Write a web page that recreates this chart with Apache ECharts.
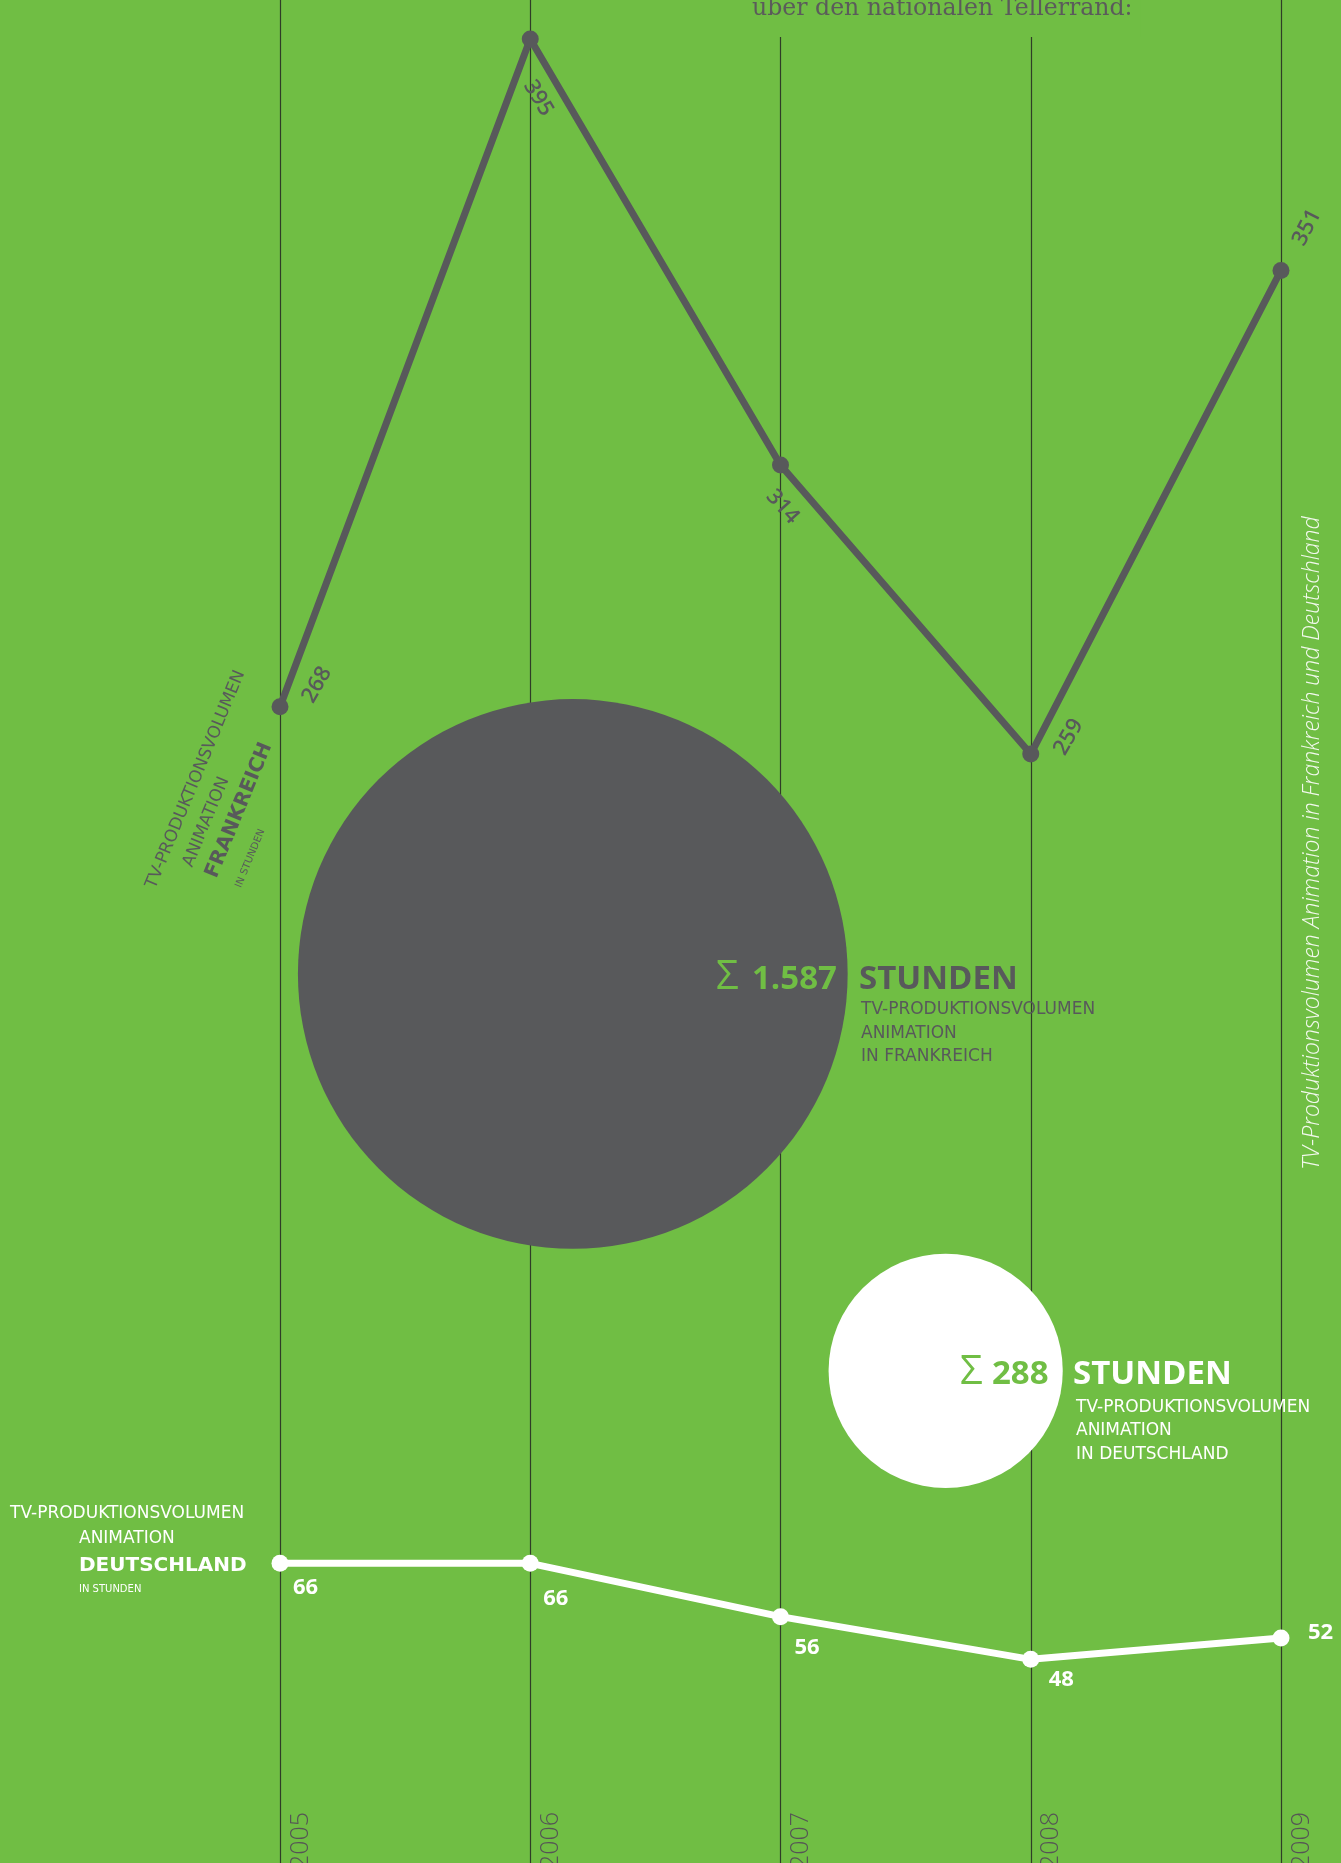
<!DOCTYPE html>
<html>
<head>
<meta charset="utf-8">
<script src="https://cdn.jsdelivr.net/npm/echarts@6/dist/echarts.min.js"></script>
<style>
html,body{margin:0;padding:0;background:#70BE44;}
#chart{width:1341px;height:1863px;}
</style>
</head>
<body>
<div id="chart"></div>
<script>
// ---------- data ----------
const years = ['2005', '2006', '2007', '2008', '2009'];
const franceValues = [268, 395, 314, 259, 351];
const germanyValues = [66, 66, 56, 48, 52];

const titleText = 'über den nationalen Tellerrand:';
const sideTitle = 'TV-Produktionsvolumen Animation in Frankreich und Deutschland';
const unitWord = 'STUNDEN';
const sumLinesFR = ['TV-PRODUKTIONSVOLUMEN', 'ANIMATION', 'IN FRANKREICH'];
const sumLinesDE = ['TV-PRODUKTIONSVOLUMEN', 'ANIMATION', 'IN DEUTSCHLAND'];
const seriesLabelFR = ['TV-PRODUKTIONSVOLUMEN', 'ANIMATION', 'FRANKREICH', 'IN STUNDEN'];
const seriesLabelDE = ['TV-PRODUKTIONSVOLUMEN', 'ANIMATION', 'DEUTSCHLAND', 'IN STUNDEN'];

// ---------- layout / style ----------
const GREEN = '#70BE44';
const GRAY = '#58595B';
const WHITE = '#FFFFFF';
const SANS = '"Open Sans"';
const WIDE = '"DejaVu Sans"';

// label placement (screen offsets from point, rotation in degrees)
const FR_LABEL = [
  {dx: 37, dy: -22, rot: 60},
  {dx: 8, dy: 59, rot: -59},
  {dx: 2, dy: 42, rot: -48},
  {dx: 38, dy: -17, rot: 60},
  {dx: 26, dy: -43, rot: 63}
];
const DE_LABEL = [[13, 24], [13, 35], [14, 31], [18, 20], [27, -5]];
// bubble centres: [x in axis years, y in % of height]
const BUBBLE_POS = [[2006.17, 52.28], [2007.66, 73.58]];
const BUBBLE_SCALE = 13.8;

function sum(a) { return a.reduce((s, v) => s + v, 0); }
function fmt(n) { return String(n).replace(/\B(?=(\d{3})+(?!\d))/g, '.'); }
function rotOffset(dx, dy, deg) {
  const t = deg * Math.PI / 180, c = Math.cos(t), s = Math.sin(t);
  return [dx * c - dy * s, dx * s + dy * c];
}
const totalFR = sum(franceValues);
const totalDE = sum(germanyValues);

function txt(str, x, base, size, weight, family, color, extra) {
  return Object.assign({
    type: 'text', x: x, y: base - 0.37 * size + 3, z: 100,
    style: {
      text: str, fill: color,
      font: weight + ' ' + size + 'px ' + family,
      align: 'left', textAlign: 'left',
      verticalAlign: 'middle', textVerticalAlign: 'middle'
    }
  }, extra || {});
}

const graphics = [];
// title (with green box so the grid lines stop below it)
graphics.push({
  type: 'text', x: 744, y: -3, z: 100,
  style: {
    text: titleText, fill: '#5B5B5B', font: 'normal 23.6px "DejaVu Serif"',
    align: 'left', textAlign: 'left', verticalAlign: 'top', textVerticalAlign: 'top',
    backgroundColor: GREEN, padding: [0, 8, 16, 8]
  }
});
// right vertical title
graphics.push({
  type: 'text', x: 1312, y: 843, rotation: Math.PI / 2, z: 100,
  style: {
    text: sideTitle, fill: '#F3F9EE', font: 'italic 300 23px ' + SANS,
    align: 'center', textAlign: 'center', verticalAlign: 'middle', textVerticalAlign: 'middle'
  }
});
// France sum block
graphics.push(txt('Σ', 716, 989, 40, 'normal', SANS, GREEN));
graphics.push(txt(fmt(totalFR), 752, 989, 33, 'bold', SANS, GREEN));
graphics.push(txt(unitWord, 859, 989, 33, 'bold', SANS, GRAY));
[1013, 1037, 1060].forEach((b, i) => graphics.push(txt(sumLinesFR[i], 861, b, 17, 'normal', WIDE, GRAY)));
// Germany sum block
graphics.push(txt('Σ', 960, 1384, 40, 'normal', SANS, GREEN));
graphics.push(txt(fmt(totalDE), 992, 1384, 33, 'bold', SANS, GREEN));
graphics.push(txt(unitWord, 1073, 1384, 33, 'bold', SANS, WHITE));
[1411, 1434, 1458].forEach((b, i) => graphics.push(txt(sumLinesDE[i], 1076, b, 17, 'normal', WIDE, WHITE)));
// Germany series label (left)
graphics.push(txt(seriesLabelDE[0], 10, 1517, 17, 'normal', WIDE, WHITE));
graphics.push(txt(seriesLabelDE[1], 79, 1542, 17, 'normal', WIDE, WHITE));
graphics.push(txt(seriesLabelDE[2], 79, 1570, 20, 'bold', WIDE, WHITE));
graphics.push(txt(seriesLabelDE[3], 79, 1590, 10, 'normal', WIDE, WHITE));
// France series label (rotated)
graphics.push({
  type: 'group', x: 154, y: 889, rotation: 67.5 * Math.PI / 180, z: 100,
  children: [
    txt(seriesLabelFR[0], 0, 0, 17, 'normal', WIDE, GRAY),
    txt(seriesLabelFR[1], 34, 26, 17, 'normal', WIDE, GRAY),
    txt(seriesLabelFR[2], 33, 53, 20, 'bold', WIDE, GRAY),
    txt(seriesLabelFR[3], 34, 78, 10, 'normal', WIDE, GRAY)
  ]
});

const franceData = franceValues.map((v, i) => ({
  value: v,
  label: {rotate: FR_LABEL[i].rot, offset: rotOffset(FR_LABEL[i].dx, FR_LABEL[i].dy, FR_LABEL[i].rot)}
}));
const germanyData = germanyValues.map((v, i) => ({
  value: v,
  label: {offset: DE_LABEL[i]}
}));
const bubbleData = [
  {value: [BUBBLE_POS[0][0], BUBBLE_POS[0][1], totalFR], itemStyle: {color: GRAY}},
  {value: [BUBBLE_POS[1][0], BUBBLE_POS[1][1], totalDE], itemStyle: {color: WHITE}}
];

const hiddenCat = (gi) => ({
  type: 'category', gridIndex: gi, data: years, boundaryGap: false, show: false
});

const option = {
  backgroundColor: GREEN,
  animation: false,
  grid: [
    {left: 280, right: 60, top: 12.8, height: 788.6, outerBoundsMode: 'none', containLabel: false},   // France
    {left: 280, right: 60, top: 1542, height: 160, outerBoundsMode: 'none', containLabel: false},     // Germany
    {left: 280, right: 60, top: 0, bottom: 0, outerBoundsMode: 'none', containLabel: false},          // year lines
    {left: 280, right: 60, top: 0, bottom: 0, outerBoundsMode: 'none', containLabel: false}           // bubbles
  ],
  xAxis: [
    hiddenCat(0),
    {
      type: 'category', gridIndex: 1, data: years, boundaryGap: false,
      axisLine: {show: false}, axisTick: {show: false}, splitLine: {show: false},
      axisLabel: {
        show: true, interval: 0, rotate: 90, margin: 110,
        color: '#555555', fontSize: 25, fontFamily: 'Open Sans', fontWeight: 300,
        verticalAlign: 'top', padding: [8, 0, 0, 0]
      }
    },
    {
      type: 'category', gridIndex: 2, data: years, boundaryGap: false,
      axisLine: {show: false}, axisTick: {show: false}, axisLabel: {show: false},
      splitLine: {show: true, interval: 0, lineStyle: {color: '#2F3D27', width: 1.2}}
    },
    {type: 'value', gridIndex: 3, min: 2005, max: 2009, show: false}
  ],
  yAxis: [
    {type: 'value', gridIndex: 0, min: 250, max: 400, show: false},
    {type: 'value', gridIndex: 1, min: 40, max: 70, show: false},
    {type: 'value', gridIndex: 2, min: 0, max: 1, show: false},
    {type: 'value', gridIndex: 3, min: 0, max: 100, inverse: true, show: false}
  ],
  series: [
    {
      type: 'scatter', xAxisIndex: 3, yAxisIndex: 3, data: bubbleData, z: 3,
      symbol: 'circle', clip: false,
      symbolSize: (v) => BUBBLE_SCALE * Math.sqrt(v[2]),
      itemStyle: {opacity: 1}, emphasis: {disabled: true}
    },
    {
      name: 'Frankreich', type: 'line', xAxisIndex: 0, yAxisIndex: 0, data: franceData, z: 5,
      symbol: 'circle', symbolSize: 17, showAllSymbol: true,
      lineStyle: {color: GRAY, width: 7}, itemStyle: {color: GRAY},
      label: {
        show: true, position: 'inside', align: 'center', verticalAlign: 'middle',
        color: GRAY, fontSize: 22, fontWeight: 600, fontFamily: 'Open Sans'
      }
    },
    {
      name: 'Deutschland', type: 'line', xAxisIndex: 1, yAxisIndex: 1, data: germanyData, z: 5,
      symbol: 'circle', symbolSize: 17, showAllSymbol: true,
      lineStyle: {color: WHITE, width: 7}, itemStyle: {color: WHITE},
      label: {
        show: true, position: 'inside', align: 'left', verticalAlign: 'middle',
        color: WHITE, fontSize: 22, fontWeight: 'bold', fontFamily: 'Open Sans'
      }
    }
  ],
  graphic: graphics
};

const chart = echarts.init(document.getElementById('chart'), null, {renderer: 'canvas'});
chart.setOption(option);
</script>
</body>
</html>
